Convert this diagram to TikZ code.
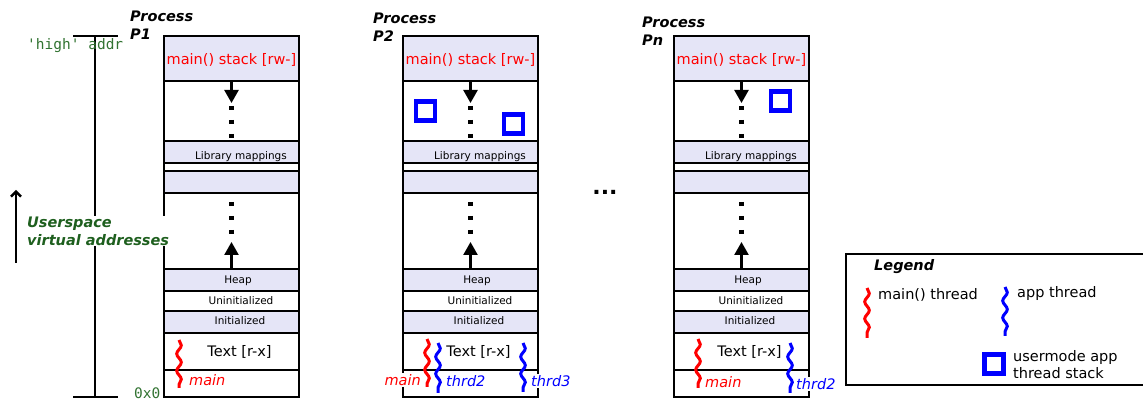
\documentclass[tikz,border=0pt]{standalone}
\usepackage{fontspec}
\setmainfont{DejaVu Sans}
\setmonofont{DejaVu Sans Mono}
\usetikzlibrary{arrows.meta}
\usetikzlibrary{decorations.pathmorphing}

\definecolor{lav}{RGB}{229,229,247}
\definecolor{addrgreen}{RGB}{50,115,50}
\definecolor{usergreen}{RGB}{30,95,30}

\tikzset{
	big/.style={font=\fontsize{14.5}{18}\selectfont, inner sep=1pt},
	small/.style={font=\fontsize{10.5}{12}\selectfont, inner sep=1pt},
	procname/.style={font=\fontsize{14.5}{18}\selectfont\bfseries\itshape, align=left, anchor=west, inner sep=0pt},
	thread/.style={decorate, decoration={snake, amplitude=2.3pt, segment length=17pt}, line width=3pt},
	threadlbl/.style={font=\fontsize{14.5}{18}\selectfont\itshape, inner sep=1pt, fill=white},
	tstack/.style={draw=blue, line width=4.2pt, minimum size=19pt, inner sep=0pt},
	dotline/.style={line width=4.2pt, dash pattern=on 4pt off 10pt},
	growarrow/.style={-{Triangle[width=14pt,length=13pt]}}
}

\begin{document}
\begin{tikzpicture}[x=10pt, y=10pt, line width=2.4pt]
	\useasboundingbox (0,0) rectangle (114.3,41.2);

	% address scale
	\coordinate (hi) at (9.5,37.6);
	\coordinate (lo) at (9.5,1.5);
	\draw (7.3,37.6) -- (11.8,37.6);
	\draw (7.3,1.5) -- (11.8,1.5);
	\draw (hi) -- (lo);
	\node[big, font=\fontsize{14.5}{18}\ttfamily, text=addrgreen, anchor=west] (highaddr) at (2.5,36.6) {'high' addr};
	\node[big, font=\fontsize{14.5}{18}\ttfamily, text=addrgreen, anchor=west] (zero) at (13.2,1.9) {0x0};
	\coordinate (up0) at (1.6,14.9);
	\coordinate (up1) at (1.6,22.2);
	\draw[-{Straight Barb[length=5pt,width=10pt]}] (up0) -- (up1);

	% the three address spaces
	\foreach \c/\n/\px/\py in {16.4/1/12.9/38.65, 40.3/2/37.2/38.45, 67.4/n/64.1/38.1} {
		\fill[lav] (\c,33.1) rectangle ++(13.5,4.5);
		\fill[lav] (\c,24.9) rectangle ++(13.5,2.2);
		\fill[lav] (\c,21.9) rectangle ++(13.5,2.2);
		\fill[lav] (\c,12.1) rectangle ++(13.5,2.2);
		\fill[lav] (\c,7.9) rectangle ++(13.5,2.2);
		\draw (\c,1.5) rectangle ++(13.5,36.1);
		\foreach \y in {33.1,27.1,24.9,24.1,21.9,14.3,12.1,10.1,7.9,4.2}
			\draw (\c,\y) -- ++(13.5,0);

		\node[procname] (proc\n) at (\px,\py) {Process\\P\n};
		\node[big, text=red] (stack\n) at (\c+6.75,35.2) {main() stack [rw-]};
		\node[small] (lib\n) at (\c+7.7,25.5) {Library mappings};
		\node[small] (heap\n) at (\c+7.4,13.1) {Heap};
		\node[small] (bss\n) at (\c+7.7,11.1) {Uninitialized};
		\node[small] (data\n) at (\c+7.6,9.1) {Initialized};
		\node[big] (text\n) at (\c+7.55,6.0) {Text [r-x]};

		% stack grows down, heap grows up
		\coordinate (stacktop\n) at (\c+6.75,33.1);
		\coordinate (stackend\n) at (\c+6.75,30.9);
		\draw[growarrow] (stacktop\n) -- (stackend\n);
		\draw[dotline] (\c+6.75,30.6) -- (\c+6.75,27.3);
		\coordinate (heaptop\n) at (\c+6.75,14.3);
		\coordinate (heapend\n) at (\c+6.75,17.0);
		\draw[growarrow] (heaptop\n) -- (heapend\n);
		\draw[dotline] (\c+6.75,21.0) -- (\c+6.75,17.7);
	}

	\node[procname, font=\fontsize{14.5}{18}\selectfont\bfseries\itshape, text=usergreen, fill=white, inner sep=1pt] (userspace) at (2.5,18.1) {Userspace\\virtual addresses};
	\node[font=\fontsize{22}{24}\selectfont\bfseries] (dots) at (60.5,22.0) {...};

	% thread stacks
	\node[tstack] (ts21) at (42.55,30.1) {};
	\node[tstack] (ts22) at (51.35,28.8) {};
	\node[tstack] (tsn2) at (78.05,31.1) {};

	% threads of P1
	\node[threadlbl, text=red, anchor=west] (main1) at (18.7,3.2) {main};
	\coordinate (m1a) at (17.9,7.2);
	\coordinate (m1b) at (17.9,2.4);
	\draw[thread, red] (m1a) -- (m1b);

	% threads of P2
	\node[threadlbl, text=red, anchor=east] (main2) at (42.3,3.2) {main};
	\node[threadlbl, text=blue, anchor=west] (thrd22) at (44.4,3.1) {thrd2};
	\node[threadlbl, text=blue, anchor=west] (thrd23) at (52.9,3.1) {thrd3};
	\coordinate (m2a) at (42.7,7.3);
	\coordinate (m2b) at (42.7,2.5);
	\draw[thread, red] (m2a) -- (m2b);
	\coordinate (t2a) at (43.8,6.9);
	\coordinate (t2b) at (43.8,1.9);
	\draw[thread, blue] (t2a) -- (t2b);
	\coordinate (t3a) at (52.3,6.9);
	\coordinate (t3b) at (52.3,2.0);
	\draw[thread, blue] (t3a) -- (t3b);

	% threads of Pn
	\node[threadlbl, text=red, anchor=west] (mainn) at (70.3,3.0) {main};
	\node[threadlbl, text=blue, anchor=west] (thrdn2) at (79.4,2.8) {thrd2};
	\coordinate (mna) at (69.8,7.3);
	\coordinate (mnb) at (69.8,2.4);
	\draw[thread, red] (mna) -- (mnb);
	\coordinate (tna) at (79.0,6.9);
	\coordinate (tnb) at (79.0,1.9);
	\draw[thread, blue] (tna) -- (tnb);

	% legend
	\draw (84.6,15.8) rectangle (115.5,2.7);
	\node[procname] (legend) at (87.3,14.5) {Legend};
	\coordinate (lma) at (86.7,12.4);
	\coordinate (lmb) at (86.7,7.4);
	\draw[thread, red] (lma) -- (lmb);
	\node[big, anchor=west] (lmain) at (87.6,11.7) {main() thread};
	\coordinate (laa) at (100.5,12.5);
	\coordinate (lab) at (100.5,7.6);
	\draw[thread, blue] (laa) -- (lab);
	\node[big, anchor=west] (lapp) at (101.5,11.8) {app thread};
	\node[tstack] (lstack) at (99.4,4.8) {};
	\node[big, anchor=west, align=left, font=\fontsize{14.5}{17}\selectfont] (lstacktxt) at (101.1,4.7) {usermode app\\thread stack};
\end{tikzpicture}
\end{document}
